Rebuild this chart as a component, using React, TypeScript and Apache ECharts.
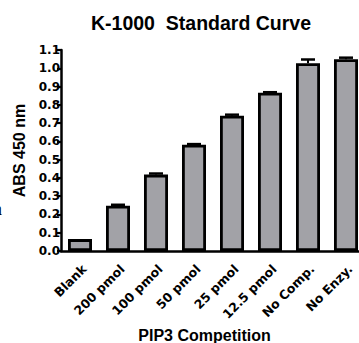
import React, { useEffect, useRef } from "react";
import * as echarts from "echarts";

const categories = ["Blank", "200 pmol", "100 pmol", "50 pmol", "25 pmol", "12.5 pmol", "No Comp.", "No Enzy."];
const values = [0.065, 0.248, 0.418, 0.582, 0.74, 0.866, 1.028, 1.05];
const errors = [0, 0.005, 0.006, 0.003, 0.006, 0.003, 0.02, 0.008];
const yTicks = { min: 0, max: 1.1, interval: 0.1 };

const FONT = "'Liberation Sans', Arial, sans-serif";
const TICK_FONT = "'DejaVu Sans', 'Liberation Sans', sans-serif";

export default function App() {
  const ref = useRef<HTMLDivElement>(null);
  useEffect(() => {
    if (!ref.current) return;
    const chart = echarts.init(ref.current, null, { renderer: "svg" });
    chart.setOption({
      animation: false,
      backgroundColor: "#ffffff",
      title: [
        {
          text: "K-1000  Standard Curve",
          left: 86,
          top: 8,
          textStyle: { fontFamily: FONT, fontWeight: "bold", fontSize: 19.5, color: "#000" },
        },
        {
          text: "a",
          left: -6,
          top: 200,
          padding: 0,
          textStyle: { fontFamily: "'Liberation Serif', serif", fontWeight: "normal", fontSize: 18, color: "#000" },
        },
      ],
      grid: { left: 61, top: 50, bottom: 92, right: -6, containLabel: false, outerBoundsMode: "none" },
      xAxis: {
        type: "category",
        data: categories,
        name: "PIP3 Competition",
        nameLocation: "middle",
        nameGap: 74,
        nameTextStyle: { fontFamily: FONT, fontWeight: "bold", fontSize: 16, color: "#000", padding: [0, 0, 0, -17] },
        axisLine: { lineStyle: { color: "#000", width: 2.5 } },
        axisTick: { alignWithLabel: true, length: 6, lineStyle: { color: "#000", width: 2.5 } },
        axisLabel: {
          rotate: 45, fontFamily: TICK_FONT, fontWeight: "bold", fontSize: 12.5, color: "#000",
          margin: 20, interval: 0, padding: [0, -6, 0, 0],
        },
      },
      yAxis: {
        type: "value",
        min: yTicks.min,
        max: yTicks.max,
        interval: yTicks.interval,
        name: "ABS 450 nm",
        nameLocation: "middle",
        nameGap: 33,
        nameRotate: 90,
        nameTextStyle: { fontFamily: FONT, fontWeight: "bold", fontSize: 16, color: "#000" },
        axisLine: { show: true, lineStyle: { color: "#000", width: 2.5 } },
        axisTick: { show: true, length: 4, lineStyle: { color: "#000", width: 2.2 } },
        splitLine: { show: false },
        axisLabel: {
          fontFamily: TICK_FONT, fontWeight: "bold", fontSize: 12, color: "#000", margin: 1,
          formatter: (v: number) => v.toFixed(1),
        },
      },
      series: [
        {
          type: "bar",
          data: values,
          barWidth: 24,
          itemStyle: { color: "#a2a2a7", borderColor: "#000", borderWidth: 2.8 },
          z: 2,
        },
        {
          type: "custom",
          z: 3,
          data: values.map((v, i) => [i, v, errors[i]]),
          renderItem: (params: any, api: any) => {
            const i = api.value(0);
            const v = api.value(1);
            const e = api.value(2);
            if (!e) return null;
            const base = api.coord([i, v]);
            const top = api.coord([i, v + e]);
            const half = 7;
            return {
              type: "group",
              children: [
                { type: "line", shape: { x1: base[0], y1: base[1], x2: top[0], y2: top[1] }, style: { stroke: "#000", lineWidth: 2 } },
                { type: "line", shape: { x1: top[0] - half, y1: top[1], x2: top[0] + half, y2: top[1] }, style: { stroke: "#000", lineWidth: 2.5 } },
              ],
            };
          },
        },
      ],
    });
    return () => chart.dispose();
  }, []);
  return <div ref={ref} style={{ width: 359, height: 343, position: "absolute", left: 0, top: 0 }} />;
}
